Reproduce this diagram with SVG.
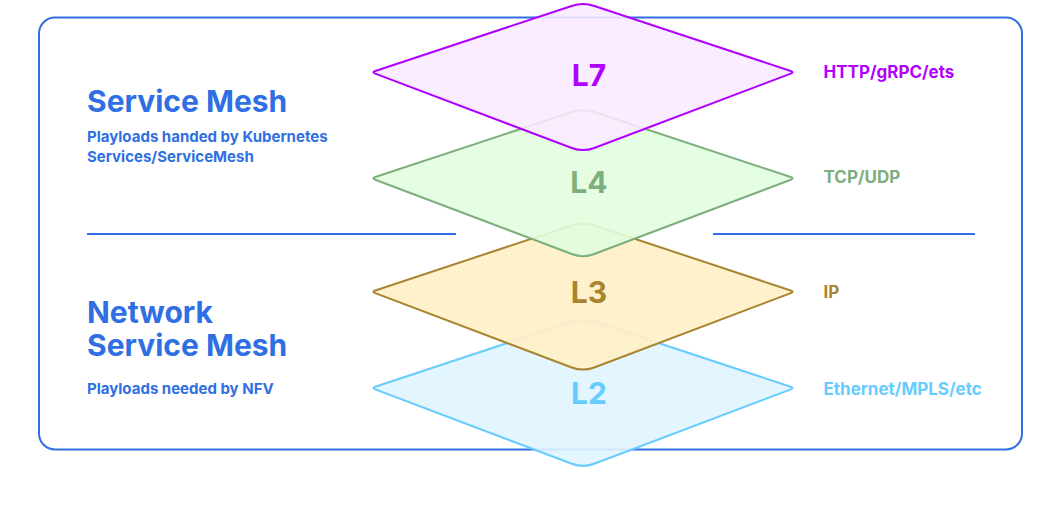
<svg xmlns="http://www.w3.org/2000/svg" xmlns:xlink="http://www.w3.org/1999/xlink" width="1061" height="518" viewBox="0 0 1061 518">
  <style>
    .frame { fill: none; stroke: #306FE3; stroke-width: 2; }
    .div { stroke: #306FE3; stroke-width: 2; }
    .t { font-family: Inter, "Liberation Sans", sans-serif; font-weight: 700; }
    .blue { fill: #306FE3; }
    .h1 { font-size: 30px; }
    .h2 { font-size: 15px; }
    .lbl { font-size: 30px; text-anchor: middle; }
    .rl { font-size: 17px; }
    .dia { stroke-width: 2; stroke-linejoin: round; }
  </style>
  <defs>
    <path id="diamond" d="M-11.39,-66.23 Q0,-70 11.39,-66.23 L207.7,-1.26 Q211.5,0 207.76,1.42 L11.22,75.75 Q0,80 -11.22,75.75 L-207.76,1.42 Q-211.5,0 -207.7,-1.26 Z"/>
  </defs>
  <rect width="1061" height="518" fill="#ffffff"/>
  <rect class="frame" x="39" y="17.5" width="983" height="432" rx="16"/>
  <g id="dividers">
    <line class="div" x1="87" y1="234" x2="456" y2="234"/>
    <line class="div" x1="713" y1="234" x2="975" y2="234"/>
  </g>
  <g id="left-text" class="t blue">
    <text class="h1" x="87" y="111.5">Service Mesh</text>
    <text class="h2" x="87" y="141.5">Playloads handed by Kubernetes</text>
    <text class="h2" x="87" y="161.5">Services/ServiceMesh</text>
    <text class="h1" x="87" y="322.5">Network</text>
    <text class="h1" x="87" y="356">Service Mesh</text>
    <text class="h2" x="87" y="393.5">Playloads needed by NFV</text>
  </g>
  <g id="L2">
    <use xlink:href="#diamond" class="dia" transform="translate(583,388)" fill="#E0F4FF" fill-opacity="0.9" stroke="#66CCFF"/>
    <text class="t lbl" x="589" y="404" fill="#66CCFF">L2</text>
    <text class="t rl" x="823.5" y="395" fill="#66CCFF">Ethernet/MPLS/etc</text>
  </g>
  <g id="L3">
    <use xlink:href="#diamond" class="dia" transform="translate(583,291.7)" fill="#FFF0C8" fill-opacity="0.92" stroke="#A8842F"/>
    <text class="t lbl" x="589" y="303.3" fill="#A8842F">L3</text>
    <text class="t rl" x="823.5" y="297.7" fill="#A8842F">IP</text>
  </g>
  <g id="L4">
    <use xlink:href="#diamond" class="dia" transform="translate(583,178.3)" fill="#E2FDDE" fill-opacity="0.9" stroke="#7DAE7D"/>
    <text class="t lbl" x="589" y="193.3" fill="#7DAE7D">L4</text>
    <text class="t rl" x="823.5" y="183.3" fill="#7DAE7D">TCP/UDP</text>
  </g>
  <g id="L7">
    <use xlink:href="#diamond" class="dia" transform="translate(583,72.2)" fill="#F9EBFF" fill-opacity="0.88" stroke="#B000FF"/>
    <text class="t lbl" x="589" y="86" fill="#B000FF">L7</text>
    <text class="t rl" x="823.5" y="78.3" fill="#B000FF">HTTP/gRPC/ets</text>
  </g>
</svg>
